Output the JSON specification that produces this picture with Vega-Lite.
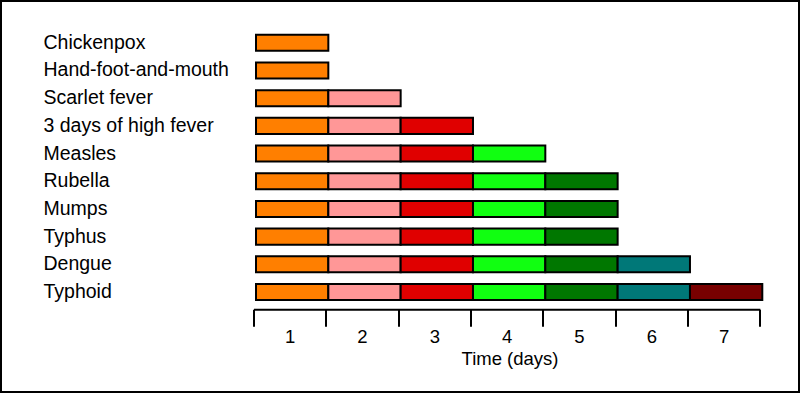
{
  "$schema": "https://vega.github.io/schema/vega-lite/v6.json",
  "width": 800,
  "height": 393,
  "autosize": {"type": "none"},
  "padding": 0,
  "background": "white",
  "config": {
    "view": {"stroke": "black", "strokeWidth": 4},
    "font": "Liberation Sans"
  },
  "data": {
    "values": [
      {"disease": "Chickenpox", "day": 1},
      {"disease": "Hand-foot-and-mouth", "day": 1},
      {"disease": "Scarlet fever", "day": 1},
      {"disease": "Scarlet fever", "day": 2},
      {"disease": "3 days of high fever", "day": 1},
      {"disease": "3 days of high fever", "day": 2},
      {"disease": "3 days of high fever", "day": 3},
      {"disease": "Measles", "day": 1},
      {"disease": "Measles", "day": 2},
      {"disease": "Measles", "day": 3},
      {"disease": "Measles", "day": 4},
      {"disease": "Rubella", "day": 1},
      {"disease": "Rubella", "day": 2},
      {"disease": "Rubella", "day": 3},
      {"disease": "Rubella", "day": 4},
      {"disease": "Rubella", "day": 5},
      {"disease": "Mumps", "day": 1},
      {"disease": "Mumps", "day": 2},
      {"disease": "Mumps", "day": 3},
      {"disease": "Mumps", "day": 4},
      {"disease": "Mumps", "day": 5},
      {"disease": "Typhus", "day": 1},
      {"disease": "Typhus", "day": 2},
      {"disease": "Typhus", "day": 3},
      {"disease": "Typhus", "day": 4},
      {"disease": "Typhus", "day": 5},
      {"disease": "Dengue", "day": 1},
      {"disease": "Dengue", "day": 2},
      {"disease": "Dengue", "day": 3},
      {"disease": "Dengue", "day": 4},
      {"disease": "Dengue", "day": 5},
      {"disease": "Dengue", "day": 6},
      {"disease": "Typhoid", "day": 1},
      {"disease": "Typhoid", "day": 2},
      {"disease": "Typhoid", "day": 3},
      {"disease": "Typhoid", "day": 4},
      {"disease": "Typhoid", "day": 5},
      {"disease": "Typhoid", "day": 6},
      {"disease": "Typhoid", "day": 7}
    ]
  },
  "mark": {"type": "rect", "stroke": "black", "strokeWidth": 2},
  "encoding": {
    "x": {
      "field": "day",
      "type": "ordinal",
      "scale": {"domain": [1, 2, 3, 4, 5, 6, 7], "range": [256, 762.3], "paddingInner": 0, "paddingOuter": 0},
      "axis": {
        "orient": "bottom",
        "offset": -81.2,
        "translate": -2,
        "tickBand": "extent",
        "tickSize": 17,
        "tickWidth": 2,
        "tickColor": "black",
        "domainColor": "black",
        "domainWidth": 2,
        "labelFontSize": 18.5,
        "labelColor": "black",
        "labelPadding": 1,
        "labelAngle": 0,
        "title": "Time (days)",
        "titleX": 512,
        "titleFontSize": 18.5,
        "titleFontWeight": "normal",
        "titleColor": "black",
        "titlePadding": 4,
        "grid": false
      }
    },
    "y": {
      "field": "disease",
      "type": "nominal",
      "scale": {
        "domain": ["Chickenpox", "Hand-foot-and-mouth", "Scarlet fever", "3 days of high fever", "Measles", "Rubella", "Mumps", "Typhus", "Dengue", "Typhoid"],
        "range": [28.95, 305.85],
        "paddingInner": 0.42,
        "paddingOuter": 0.21
      },
      "axis": {
        "orient": "left",
        "offset": -43,
        "ticks": false,
        "tickSize": 0,
        "domain": false,
        "labelAlign": "left",
        "labelBaseline": "middle",
        "labelPadding": 0,
        "labelLimit": 0,
        "labelFontSize": 19.5,
        "labelColor": "black",
        "title": null,
        "grid": false
      }
    },
    "color": {
      "field": "day",
      "type": "ordinal",
      "scale": {"domain": [1, 2, 3, 4, 5, 6, 7], "range": ["#FF7F00", "#FF9797", "#E00000", "#11FF11", "#007700", "#007878", "#780000"]},
      "legend": null
    }
  }
}
